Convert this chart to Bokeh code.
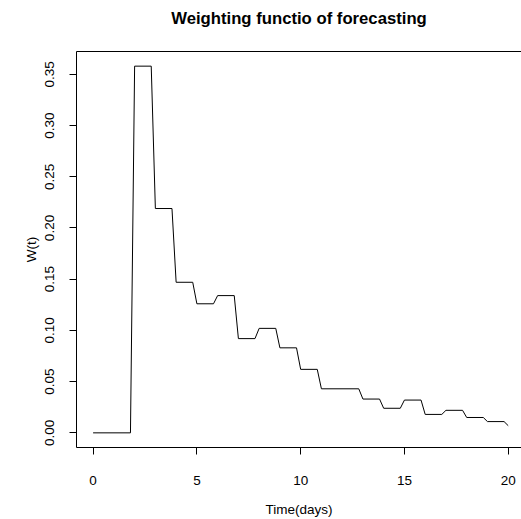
from bokeh.plotting import figure
from bokeh.models import LinearAxis, FixedTicker, PrintfTickFormatter
from bokeh.embed import file_html
from bokeh.resources import INLINE

# Vertices of the weighting function (time in days, weight W(t))
time_days = [0, 1.8, 2.0, 2.8, 3.0, 3.8, 4.0, 4.8, 5.0, 5.8, 6.0, 6.8, 7.0, 7.8,
             8.0, 8.8, 9.0, 9.8, 10.0, 10.8, 11.0, 12.8, 13.0, 13.8, 14.0, 14.8,
             15.0, 15.8, 16.0, 16.8, 17.0, 17.8, 18.0, 18.8, 19.0, 19.8, 20.0]
weight = [0.0, 0.0, 0.358, 0.358, 0.219, 0.219, 0.147, 0.147, 0.126, 0.126,
          0.134, 0.134, 0.092, 0.092, 0.102, 0.102, 0.083, 0.083, 0.062, 0.062,
          0.043, 0.043, 0.033, 0.033, 0.024, 0.024, 0.032, 0.032, 0.018, 0.018,
          0.022, 0.022, 0.015, 0.015, 0.011, 0.011, 0.007]

x_ticks = [0, 5, 10, 15, 20]
y_ticks = [0.0, 0.05, 0.10, 0.15, 0.20, 0.25, 0.30, 0.35]
title_text = "Weighting functio of forecasting"
x_label = "Time(days)"
y_label = "W(t)"

FONT = "Liberation Sans"

p = figure(width=521, height=519, output_backend="svg", toolbar_location=None,
           x_range=(-0.8, 20.64), y_range=(-0.0143, 0.3723),
           min_border_left=76, min_border_right=0, min_border_top=51,
           min_border_bottom=70)
p.outline_line_color = None
p.grid.visible = False
p.background_fill_color = "white"
p.border_fill_color = "white"

p.line(time_days, weight, line_color="black", line_width=1)

xa = p.xaxis[0]
xa.ticker = FixedTicker(ticks=x_ticks)
xa.axis_label = x_label
ya = p.yaxis[0]
ya.ticker = FixedTicker(ticks=y_ticks)
ya.formatter = PrintfTickFormatter(format="%.2f")
ya.axis_label = y_label
ya.major_label_orientation = "vertical"

for ax in (xa, ya):
    ax.minor_tick_line_color = None
    ax.major_tick_in = 0
    ax.major_tick_out = 7
    ax.major_tick_line_color = "black"
    ax.axis_line_color = "black"
    ax.major_label_text_font = FONT
    ax.major_label_text_font_size = "13.5px"
    ax.major_label_text_color = "black"
    ax.axis_label_text_font = FONT
    ax.axis_label_text_font_size = "13.5px"
    ax.axis_label_text_font_style = "normal"
    ax.axis_label_text_color = "black"

xa.major_label_standoff = 21
xa.axis_label_standoff = 14
ya.major_label_standoff = 15
ya.axis_label_standoff = 4

# top edge of the box, carrying the bold main title as its label
top = LinearAxis(ticker=FixedTicker(ticks=[]), major_label_text_font_size="0px",
                 axis_line_color="black", major_tick_line_color=None,
                 minor_tick_line_color=None, major_tick_out=0, major_tick_in=0,
                 major_label_standoff=0, axis_label=title_text,
                 axis_label_text_font=FONT, axis_label_text_font_size="16.7px",
                 axis_label_text_font_style="bold", axis_label_text_color="black",
                 axis_label_standoff=24)
p.add_layout(top, "above")

open("out.html", "w").write(file_html(p, INLINE))
